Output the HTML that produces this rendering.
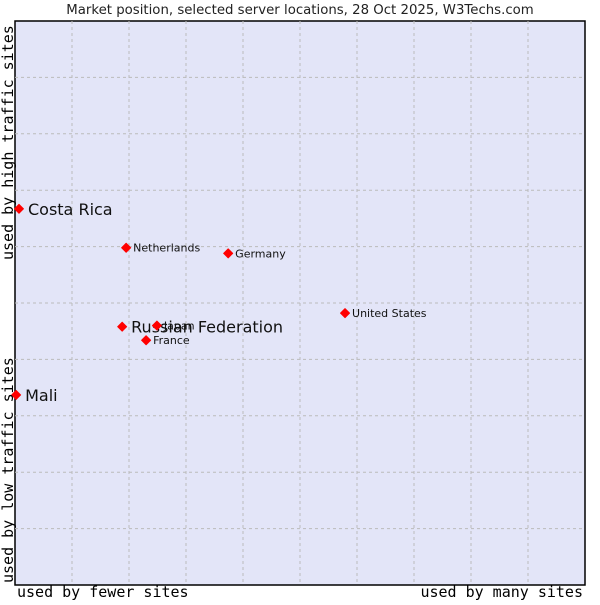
<!DOCTYPE html>
<html><head><meta charset="utf-8"><style>
body{margin:0;background:#fff;width:600px;height:600px;overflow:hidden}
svg{font-family:"DejaVu Sans","Liberation Sans",sans-serif}
.mono{font-family:"DejaVu Sans Mono","Liberation Mono",monospace}
</style></head><body>
<svg id="c" width="600" height="600">
<text x="300" y="14" text-anchor="middle" font-size="13.3" fill="#222">Market position, selected server locations, 28 Oct 2025, W3Techs.com</text>
<rect x="15" y="21" width="570" height="564" fill="#e3e5f8" stroke="#000" stroke-width="1.5"/>
<g id="grid"></g>
<g id="pts"></g>
<text class="mono" x="17" y="597" font-size="15" fill="#000">used by fewer sites</text>
<text class="mono" x="583" y="597" font-size="15" text-anchor="end" fill="#000">used by many sites</text>
<text class="mono" transform="translate(13,583) rotate(-90)" font-size="15" fill="#000">used by low traffic sites</text>
<text class="mono" transform="translate(13,260) rotate(-90)" font-size="15" fill="#000">used by high traffic sites</text>
</svg>
<script>
const names=["Costa Rica","Netherlands","Germany","United States","Russian Federation","Japan","France","Mali"];
const xVals=[0.7,19.5,37.4,57.9,18.8,24.9,23.0,0.2];
const yVals=[66.7,59.8,58.8,48.2,45.8,46.0,43.4,33.7];
const big=[true,false,false,false,true,false,false,true];
const NS="http://www.w3.org/2000/svg";
const X=v=>15+v*5.7, Y=v=>585-v*5.64;
const g=document.getElementById('grid'),p=document.getElementById('pts');
for(let i=1;i<10;i++){
 const a=document.createElementNS(NS,'line');
 
 
 a.setAttribute('x1',X(i*10));a.setAttribute('x2',X(i*10));a.setAttribute('y1',21);a.setAttribute('y2',585);
 a.setAttribute('stroke','#bbb');a.setAttribute('stroke-dasharray','3,3');g.appendChild(a);
 const b=document.createElementNS(NS,'line');
 
 
 b.setAttribute('y1',Y(i*10));b.setAttribute('y2',Y(i*10));b.setAttribute('x1',15);b.setAttribute('x2',585);
 b.setAttribute('stroke','#bbb');b.setAttribute('stroke-dasharray','3,3');g.appendChild(b);
}
names.forEach((n,i)=>{
 const x=X(xVals[i]),y=Y(yVals[i]);
 const d=document.createElementNS(NS,'path');
 
 
 d.setAttribute('d',`M${x-4.5},${y}L${x},${y-4.5}L${x+4.5},${y}L${x},${y+4.5}Z`);
 d.setAttribute('fill','#f00');d.setAttribute('stroke','#f00');d.setAttribute('stroke-width','1');d.setAttribute('stroke-linejoin','round');p.appendChild(d);
 const t=document.createElementNS(NS,'text');
 
 
 t.setAttribute('x',x+(big[i]?9:7));t.setAttribute('y',y+(big[i]?6:4));
 t.setAttribute('font-size',big[i]?16:11);t.setAttribute('fill','#111');
 t.textContent=n;p.appendChild(t);
});
</script>
</body></html>
